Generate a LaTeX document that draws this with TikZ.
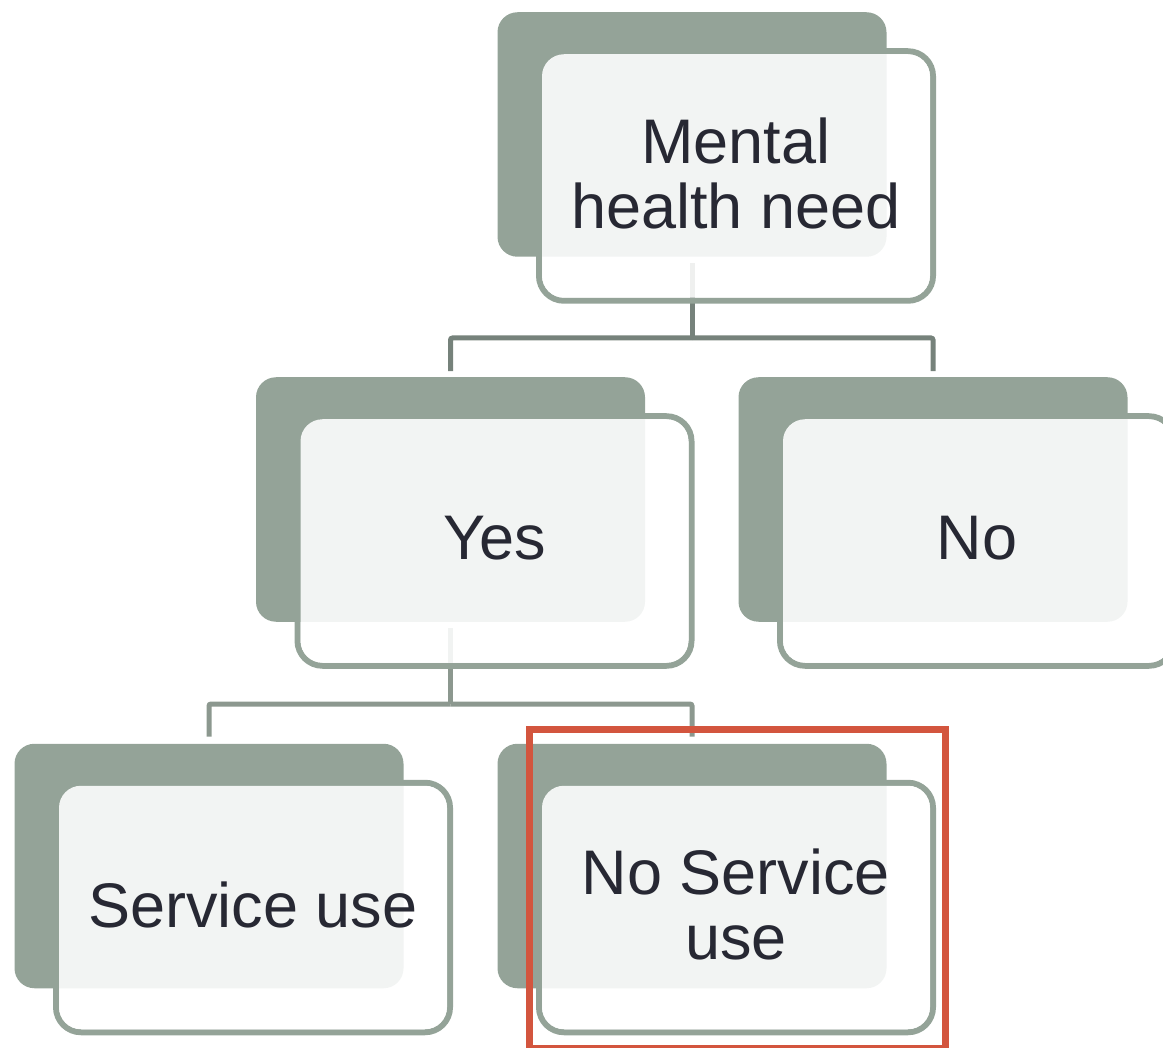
\documentclass[tikz,border=0pt]{standalone}
\usepackage{fontspec}
\setmainfont{Liberation Sans}
\definecolor{darkbox}{HTML}{94A398}
\definecolor{linkA}{HTML}{76827B}
\definecolor{linkB}{HTML}{8C988F}
\definecolor{txt}{HTML}{272833}
\definecolor{redbox}{HTML}{D3553E}
\begin{document}
\begin{tikzpicture}[x=1pt,y=-1pt,
  backbox/.style={fill=darkbox, draw=none, rounded corners=20pt, minimum width=389pt, minimum height=244.5pt, inner sep=0pt},
  frontline/.style={draw=darkbox, line width=6pt, rounded corners=25pt, minimum width=394pt, minimum height=249.5pt, inner sep=0pt},
  frontfill/.style={fill=white, fill opacity=0.885, text opacity=1, draw=none, rounded corners=22pt, minimum width=388pt, minimum height=243.5pt, inner sep=0pt, text=txt, font=\fontsize{63}{65}\selectfont, align=center, text depth=6pt},
  linkA/.style={line width=5pt, draw=linkA, rounded corners=2pt},
  linkB/.style={line width=5pt, draw=linkB, rounded corners=2pt},
  redframe/.style={draw=redbox, line width=7pt}
]
\useasboundingbox (0,0) rectangle (1163,1048);
\clip (0,0) rectangle (1163,1048);

% anchor coordinates for the connector joints
\coordinate (j1) at (692,338);
\coordinate (j2) at (450.5,704);

% back boxes (named, positioned) -- drawn later, but names needed for links
\path (692,134.5) node[backbox, draw=none, fill=none] (topd) {};
\path (450.5,499.5) node[backbox, draw=none, fill=none] (yesd) {};
\path (933,499.5) node[backbox, draw=none, fill=none] (nod) {};
\path (209,866) node[backbox, draw=none, fill=none] (sud) {};
\path (692,866) node[backbox, draw=none, fill=none] (nsud) {};

% connectors
\draw[linkA, shorten <=6pt] (topd.south) -- (j1);
\draw[linkA, shorten >=6pt] (j1) -| (yesd.north);
\draw[linkA, shorten >=6pt] (j1) -| (nod.north);
\draw[linkB, shorten <=6pt] (yesd.south) -- (j2);
\draw[linkB, shorten >=7pt] (j2) -| (sud.north);
\draw[linkB, shorten >=7pt] (j2) -| (nsud.north);

% top item
\node[frontline] (topo) at (736,176) {};
\node[backbox] (topb) at (topd) {};
\node[frontfill] (topf) at (topo) {Mental\\health need};

% Yes
\node[frontline] (yeso) at (494.5,541) {};
\node[backbox] (yesb) at (yesd) {};
\node[frontfill] (yesf) at (yeso) {Yes};

% No
\node[frontline] (noo) at (977,541) {};
\node[backbox] (nob) at (nod) {};
\node[frontfill] (nof) at (noo) {No};

% Service use
\node[frontline] (suo) at (253,907.5) {};
\node[backbox] (sub) at (sud) {};
\node[frontfill] (suf) at (suo) {Service use};

% No Service use
\node[frontline] (nsuo) at (736,907.5) {};
\node[backbox] (nsub) at (nsud) {};
\node[frontfill] (nsuf) at (nsuo) {No Service\\use};

% highlight frame
\draw[redframe] (529,729) rectangle (945,1048.5);
\end{tikzpicture}
\end{document}
